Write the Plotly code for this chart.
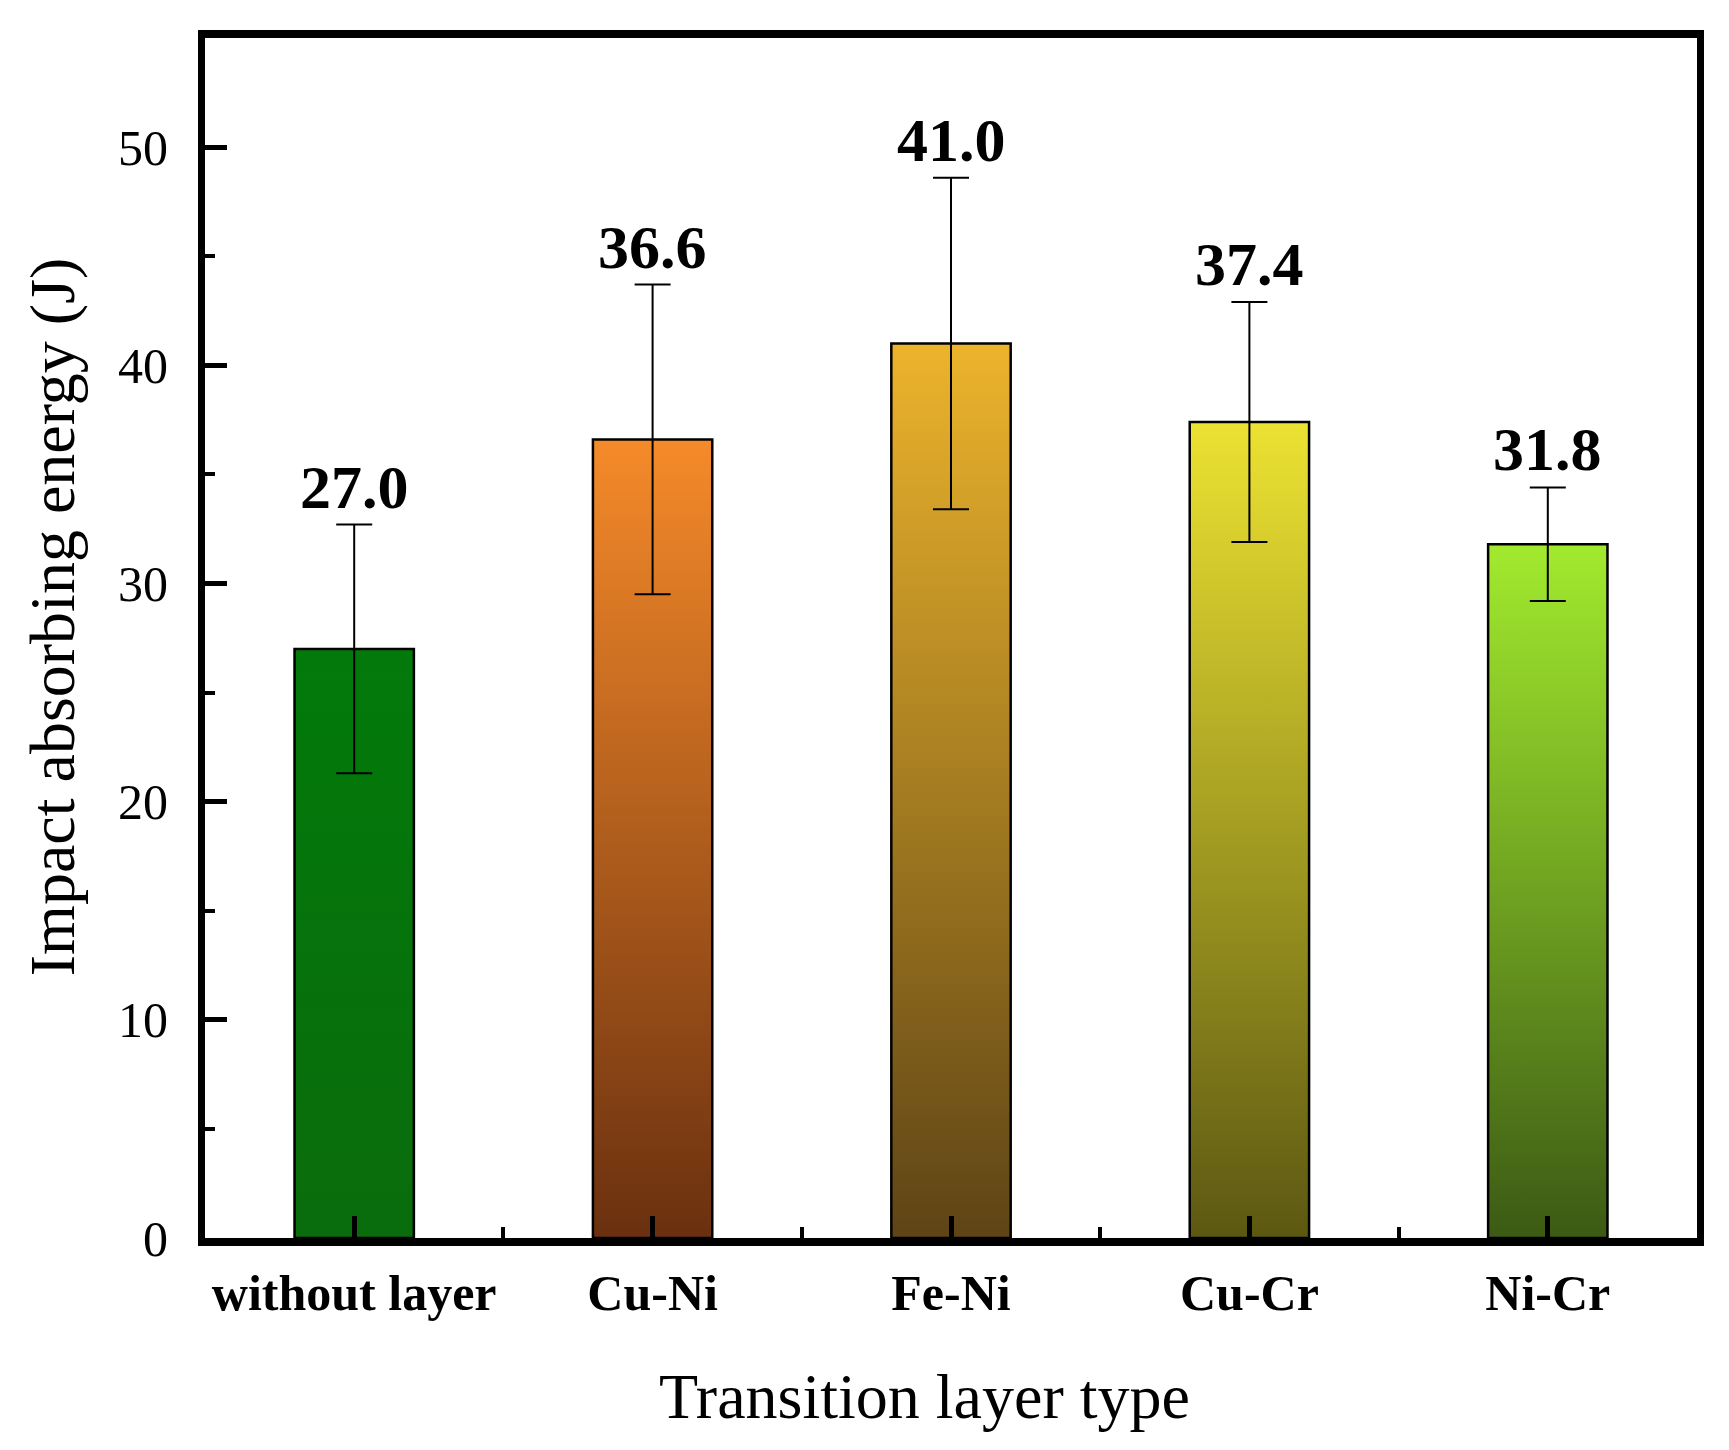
import plotly.graph_objects as go

categories = ['without layer', 'Cu-Ni', 'Fe-Ni', 'Cu-Cr', 'Ni-Cr']
energy = [27.0, 36.6, 41.0, 37.4, 31.8]
err = [5.7, 7.1, 7.6, 5.5, 2.6]
top_colors = ['#027a0a', '#f58a2a', '#ecb42c', '#ece232', '#a2ea2e']
bottom_colors = ['#0a6c0c', '#6a300f', '#5e4416', '#5c5812', '#3c5a14']
yticks = [0, 10, 20, 30, 40, 50]

FONT = 'Liberation Serif'
bar_w = 0.4

fig = go.Figure()

# gradient bars as filled polygons built from the data
for i, v in enumerate(energy):
    x0, x1 = i - bar_w / 2, i + bar_w / 2
    fig.add_trace(go.Scatter(
        x=[x0, x1, x1, x0, x0], y=[0, 0, v, v, 0],
        mode='lines', fill='toself',
        line=dict(color='black', width=2.5),
        fillgradient=dict(type='vertical',
                          colorscale=[[0, bottom_colors[i]], [1, top_colors[i]]]),
        hoverinfo='skip', showlegend=False))

# error bars
fig.add_trace(go.Scatter(
    x=list(range(len(categories))), y=energy, mode='markers',
    marker=dict(size=1, color='rgba(0,0,0,0)'),
    error_y=dict(type='data', array=err, visible=True, color='black',
                 thickness=2, width=18),
    showlegend=False))

for i, v in enumerate(energy):
    fig.add_annotation(x=i, y=v + err[i], text=f'{v:.1f}', showarrow=False,
                       yanchor='bottom', yshift=2,
                       font=dict(family=FONT, size=62, color='black', weight='bold'))

# axis titles as annotations so they sit where the original has them
fig.add_annotation(x=0.482, y=-0.132, xref='paper', yref='paper',
                   text='Transition layer type', showarrow=False,
                   xanchor='center', yanchor='middle',
                   font=dict(family=FONT, size=64, color='black'))
fig.add_annotation(x=-0.102, y=0.518, xref='paper', yref='paper',
                   text='Impact absorbing energy (J)', showarrow=False, textangle=-90,
                   xanchor='center', yanchor='middle',
                   font=dict(family=FONT, size=64, color='black'))

fig.update_layout(
    width=1729, height=1450,
    margin=dict(l=197, r=40, t=30, b=220),
    plot_bgcolor='white', paper_bgcolor='white',
    showlegend=False,
)
fig.update_xaxes(
    range=[-0.5, 4.5],
    tickmode='array', tickvals=list(range(len(categories))), ticktext=categories,
    ticks='inside', ticklen=22, tickwidth=5, tickcolor='black',
    minor=dict(ticks='inside', tick0=0.5, dtick=1, ticklen=11, tickwidth=4, tickcolor='black'),
    tickfont=dict(family=FONT, size=50, color='black', weight='bold'),
    ticklabelstandoff=4,
    showline=True, linewidth=8, linecolor='black', mirror=True,
    showgrid=False, zeroline=False,
)
fig.update_yaxes(
    range=[0, 55],
    tickmode='array', tickvals=yticks,
    ticks='inside', ticklen=22, tickwidth=5, tickcolor='black',
    minor=dict(ticks='inside', tick0=0, dtick=5, ticklen=10, tickwidth=4, tickcolor='black'),
    tickfont=dict(family=FONT, size=50, color='black'),
    ticklabelstandoff=20,
    showline=True, linewidth=7, linecolor='black', mirror=True,
    showgrid=False, zeroline=False,
)

fig.write_html('out.html')
